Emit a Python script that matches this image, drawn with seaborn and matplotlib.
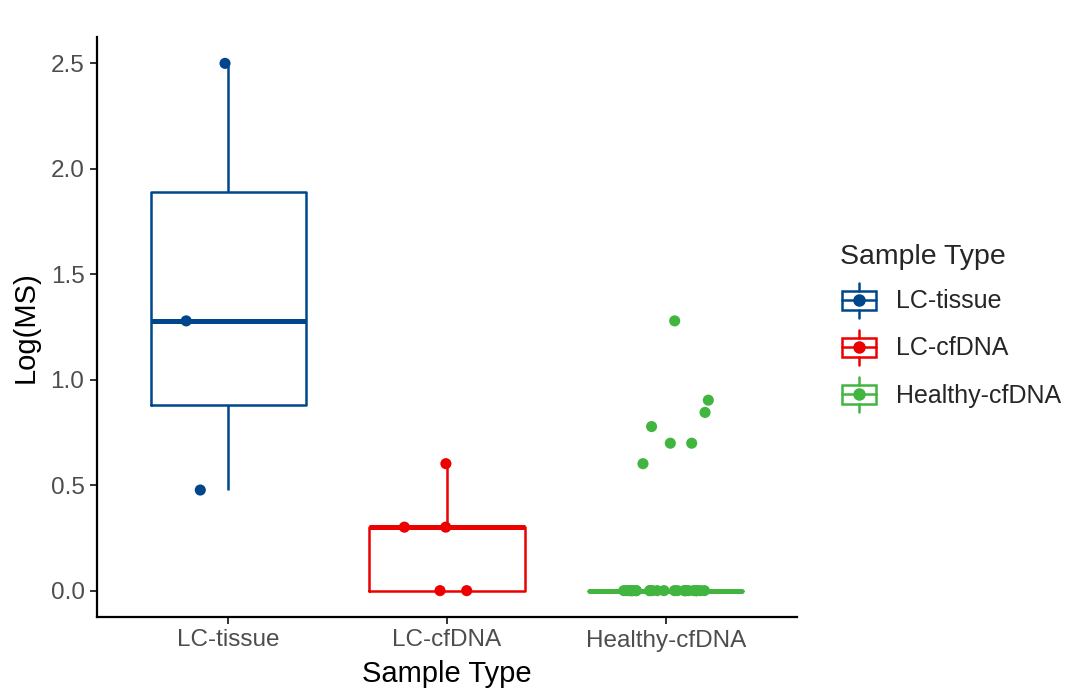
import matplotlib
matplotlib.use("Agg")
import matplotlib.pyplot as plt
from matplotlib.legend_handler import HandlerBase
from matplotlib.lines import Line2D
from matplotlib.patches import Rectangle
import seaborn as sns
import numpy as np
import pandas as pd

# Datos
sample_types = ["LC-tissue", "LC-cfDNA", "Healthy-cfDNA"]
colors = ["#00468B", "#ED0000", "#42B540"]

lc_tissue = [0.477, 1.279, 2.5]
lc_cfdna = [0.0, 0.0, 0.301, 0.301, 0.602]
healthy_cfdna = [0.0, 0.0, 0.0, 0.0, 0.0, 0.0, 0.0, 0.0, 0.0, 0.0,
                 0.0, 0.0, 0.0, 0.0, 0.0, 0.0, 0.0, 0.0, 0.0, 0.0,
                 0.0, 0.0, 0.0, 0.0, 0.0,
                 1.279, 0.699, 0.845, 0.903, 0.778, 0.602, 0.699]
y_ticks = [0.0, 0.5, 1.0, 1.5, 2.0, 2.5]

df = pd.DataFrame({
    "type": ["LC-tissue"] * len(lc_tissue) + ["LC-cfDNA"] * len(lc_cfdna)
            + ["Healthy-cfDNA"] * len(healthy_cfdna),
    "value": lc_tissue + lc_cfdna + healthy_cfdna,
})
palette = dict(zip(sample_types, colors))


# Símbolo de leyenda tipo ggplot (caja + punto)
class BoxHandler(HandlerBase):
    def create_artists(self, legend, orig_handle, xdescent, ydescent,
                       width, height, fontsize, trans):
        c = orig_handle.get_color()
        x0, y0 = -xdescent, -ydescent
        cx = x0 + width / 2
        cy = y0 + height / 2
        bw, bh = width * 0.9, height * 0.55
        rect = Rectangle((cx - bw / 2, cy - bh / 2), bw, bh, fill=False,
                         edgecolor=c, lw=1.8, transform=trans)
        med = Line2D([cx - bw / 2, cx + bw / 2], [cy, cy], color=c, lw=1.8, transform=trans)
        wt = Line2D([cx, cx], [cy + bh / 2, y0 + height], color=c, lw=1.8, transform=trans)
        wb = Line2D([cx, cx], [cy - bh / 2, y0], color=c, lw=1.8, transform=trans)
        dot = Line2D([cx], [cy], marker="o", color=c, markersize=8, transform=trans)
        return [rect, med, wt, wb, dot]


sns.set_style("white")
plt.rcParams["font.family"] = ["Liberation Sans", "DejaVu Sans"]

fig = plt.figure(figsize=(10.8, 6.99), dpi=100)
ax = fig.add_axes([97 / 1080, 82 / 699, 700 / 1080, 580 / 699])

sns.boxplot(data=df, x="type", y="value", hue="type", order=sample_types,
            hue_order=sample_types, palette=palette, fill=False, width=0.71,
            linewidth=1.8, showfliers=False, showcaps=False, legend=False,
            medianprops={"linewidth": 3.6}, ax=ax)

np.random.seed(11)
sns.stripplot(data=df, x="type", y="value", hue="type", order=sample_types,
              hue_order=sample_types, palette=palette, jitter=0.2, size=8,
              linewidth=0, legend=False, zorder=5, ax=ax)

ax.set_xlim(-0.6, 2.6)
ax.set_ylim(-0.125, 2.625)
ax.set_yticks(y_ticks)
ax.set_yticklabels([f"{t:.1f}" for t in y_ticks])

for s in ["top", "right"]:
    ax.spines[s].set_visible(False)
for s in ["left", "bottom"]:
    ax.spines[s].set_linewidth(1.6)
    ax.spines[s].set_color("black")

ax.tick_params(axis="both", which="major", direction="out", length=5, width=1.4,
               color="#333333", labelcolor="#4D4D4D", labelsize=17.5, pad=4,
               left=True, bottom=True)
ax.set_xlabel("Sample Type", fontsize=21, color="black", labelpad=6)
ax.set_ylabel("Log(MS)", fontsize=21, color="black", labelpad=8)

handles = [Line2D([], [], color=c) for c in colors]
fig.legend(handles=handles, labels=sample_types, handler_map={Line2D: BoxHandler()},
           title="Sample Type", loc="upper left", bbox_to_anchor=(818 / 1080, 1 - 222 / 699),
           frameon=False, fontsize=18, title_fontsize=20.5, alignment="left",
           handlelength=1.5, handleheight=1.75, labelspacing=0.5, handletextpad=0.7)

fig.savefig("out.png", dpi=100)
